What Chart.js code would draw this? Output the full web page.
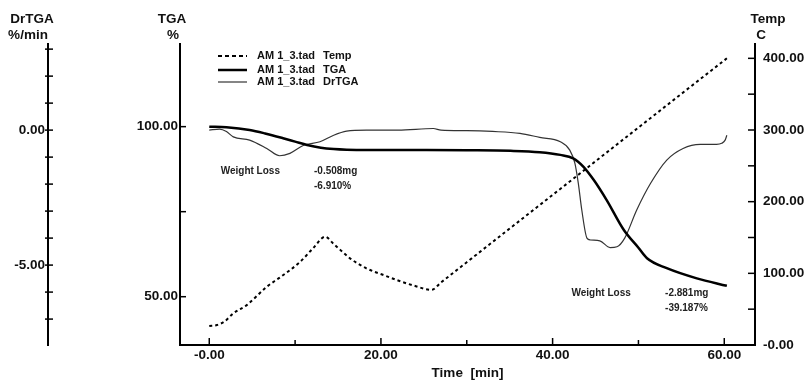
<!DOCTYPE html>
<html>
<head>
<meta charset="utf-8">
<title>AM 1_3 TGA</title>
<script src="https://cdn.jsdelivr.net/npm/chart.js@4.4.1/dist/chart.umd.min.js"></script>
<style>
  html, body { margin: 0; padding: 0; background: #fff; }
  #wrap { width: 811px; height: 381px; }
</style>
</head>
<body>
<div id="wrap"><canvas id="tga"></canvas></div>
<script>
(function () {
  "use strict";

  const FONT = "'Liberation Sans', Arial, sans-serif";
  const INK = "#111";

  /* ── Run AM 1_3.tad (time in minutes) ─────────────────────────── */
  const tempTime = [0, 0.9, 1.8, 2.8, 4.4, 6.7, 8.2, 10.6, 12.1, 13.5, 14.5, 16.4, 18.3, 20.3, 22, 23.8, 25.9, 27, 30, 35, 40, 42.8, 50, 55, 60.3];
  const tempC    = [26.5, 27.9, 33, 44.2, 56, 81.3, 94, 116.2, 135, 151, 141, 120.9, 107, 97.6, 90, 83, 77, 87.3, 115.5, 162.5, 209.4, 235.7, 303.4, 350.4, 400];

  const tgaTime = [0, 2, 4.7, 6.5, 8.6, 10, 11.4, 13, 14.5, 16, 18.3, 25, 30, 35.1, 38.5, 40.9, 42.4, 43.6, 44.8, 46.3, 48.3, 50, 51, 53.3, 56.8, 60.3];
  const tgaPct  = [100, 99.8, 99.0, 98.0, 96.6, 95.6, 94.6, 93.8, 93.4, 93.2, 93.1, 93.1, 93.05, 92.9, 92.5, 91.7, 90.7, 88.2, 84.3, 78.4, 69.6, 64.4, 61.3, 58.4, 55.4, 53.2];

  const drTime = [0, 1.2, 2.0, 2.8, 4.7, 6.7, 8.2, 9.4, 11.0, 12.9, 14.5, 16.0, 18.3, 22, 26.1, 27, 30, 33, 36.2, 38.5, 40.9, 42.0, 42.6, 43.0, 43.4, 44.0, 44.4, 45.5, 46.7, 47.5, 48.4, 49.8, 51.4, 53.3, 55.2, 57.2, 59.1, 59.7, 60.1, 60.3];
  const drRate = [0, 0.04, -0.05, -0.25, -0.37, -0.68, -0.95, -0.86, -0.56, -0.43, -0.19, -0.04, 0, 0, 0.06, 0, -0.02, -0.05, -0.12, -0.27, -0.43, -0.74, -1.23, -1.98, -2.96, -4.0, -4.07, -4.1, -4.35, -4.32, -4.0, -2.96, -1.98, -1.11, -0.68, -0.53, -0.53, -0.49, -0.37, -0.19];

  /* ── Axis ticks and labels ─────────────────────────────────────── */
  const timeTicks  = [0, 10, 20, 30, 40, 50, 60];
  const timeLabels = ["-0.00", "", "20.00", "", "40.00", "", "60.00"];
  const tgaTicks   = [50, 75, 100];
  const tgaLabels  = ["50.00", "", "100.00"];
  const drTicks    = [-7, -6, -5, -4, -3, -2, -1, 0, 1, 2, 3];
  const drLabels   = ["", "", "-5.00", "", "", "", "", "0.00", "", "", ""];
  const tempTicks  = [0, 50, 100, 150, 200, 250, 300, 350, 400];
  const tempLabels = ["-0.00", "", "100.00", "", "200.00", "", "300.00", "", "400.00"];

  const fileName   = "AM 1_3.tad";
  const traceNames = ["Temp", "TGA", "DrTGA"];
  const lossMass   = ["-0.508mg", "-2.881mg"];
  const lossPct    = ["-6.910%", "-39.187%"];

  const pts = (xs, ys) => xs.map((x, i) => ({ x, y: ys[i] }));

  const tickFont = { family: FONT, size: 13.5, weight: "bold" };
  const noGrid = { display: false, drawTicks: false };

  const yAxis = (ticks, labels, position, width, pad, weight) => ({
    type: "linear",
    position,
    weight,
    afterBuildTicks: (s) => { s.ticks = ticks.map((v) => ({ value: v })); },
    afterFit: (s) => { s.width = width; },
    border: { display: true, color: "#000", width: 2 },
    grid: noGrid,
    ticks: { autoSkip: false, padding: pad, color: INK, font: tickFont, callback: (v, i) => labels[i] },
  });

  /* ── Tick marks point into the plot, like the instrument printout ── */
  const innerTicks = {
    id: "innerTicks",
    afterDraw(chart) {
      const { ctx, scales } = chart;
      ctx.save();
      ctx.strokeStyle = "#000";
      ctx.lineWidth = 1.5;
      const line = (x0, y0, x1, y1) => { ctx.beginPath(); ctx.moveTo(x0, y0); ctx.lineTo(x1, y1); ctx.stroke(); };
      const dr = scales.yDr, tg = scales.yTga, tp = scales.yTemp, tx = scales.x;
      dr.ticks.forEach((t) => { const y = dr.getPixelForValue(t.value); line(dr.right - 3, y, dr.right + 5, y); });
      tg.ticks.forEach((t) => { const y = tg.getPixelForValue(t.value); line(tg.right - 1, y, tg.right + 6, y); });
      tp.ticks.forEach((t) => { const y = tp.getPixelForValue(t.value); line(tp.left - 7, y, tp.left, y); });
      tx.ticks.forEach((t) => {
        const x = tx.getPixelForValue(t.value);
        const len = t.value % 20 === 0 ? 7 : 5;
        line(x, tx.top - len, x, tx.top);
      });
      ctx.restore();
    },
  };

  /* ── Axis headers, legend and weight-loss notes ────────────────── */
  const annotate = {
    id: "annotate",
    afterDraw(chart) {
      const { ctx, scales, chartArea: a } = chart;
      ctx.save();
      ctx.fillStyle = INK;
      ctx.textAlign = "center";
      ctx.textBaseline = "middle";
      ctx.font = "bold 13.5px " + FONT;
      const dr = scales.yDr, tg = scales.yTga, tp = scales.yTemp;
      ctx.fillText("DrTGA", dr.right - 16, 19);
      ctx.fillText("%/min", dr.right - 20, 35);
      ctx.fillText("TGA", tg.right - 8, 19);
      ctx.fillText("%", tg.right - 7, 35);
      ctx.fillText("Temp", tp.left + 13, 19);
      ctx.fillText("C", tp.left + 6, 35);

      // legend block
      const rows = [a.top + 12, a.top + 26, a.top + 38];
      const styles = [
        { w: 2, dash: [4, 3], c: "#000" },
        { w: 2.5, dash: [], c: "#000" },
        { w: 1.2, dash: [], c: "#333" },
      ];
      const lx0 = a.left + 38, lx1 = a.left + 67;
      rows.forEach((y, i) => {
        ctx.beginPath();
        ctx.setLineDash(styles[i].dash);
        ctx.lineWidth = styles[i].w;
        ctx.strokeStyle = styles[i].c;
        ctx.moveTo(lx0, y);
        ctx.lineTo(lx1, y);
        ctx.stroke();
      });
      ctx.setLineDash([]);
      ctx.font = "bold 11px " + FONT;
      ctx.textAlign = "left";
      rows.forEach((y, i) => {
        ctx.fillText(fileName, a.left + 77, y);
        ctx.fillText(traceNames[i], a.left + 143, y);
      });

      // weight-loss steps, placed on the time / TGA scales
      const x = scales.x, y = scales.yTga;
      const spots = [
        { t: 1.33, v: 86.8, tv: 12.2, v2: 82.4 },
        { t: 42.2, v: 51.0, tv: 53.1, v2: 46.6 },
      ];
      ctx.font = "bold 10px " + FONT;
      ctx.fillStyle = "#222";
      spots.forEach((s, i) => {
        ctx.fillText("Weight Loss", x.getPixelForValue(s.t), y.getPixelForValue(s.v));
        ctx.fillText(lossMass[i], x.getPixelForValue(s.tv), y.getPixelForValue(s.v));
        ctx.fillText(lossPct[i], x.getPixelForValue(s.tv), y.getPixelForValue(s.v2));
      });
      ctx.restore();
    },
  };

  new Chart(document.getElementById("tga"), {
    type: "line",
    data: {
      datasets: [
        {
          label: "Temp",
          data: pts(tempTime, tempC),
          yAxisID: "yTemp",
          borderColor: "#000",
          borderWidth: 2,
          borderDash: [3, 3],
          pointRadius: 0,
          cubicInterpolationMode: "monotone",
        },
        {
          label: "TGA",
          data: pts(tgaTime, tgaPct),
          yAxisID: "yTga",
          borderColor: "#000",
          borderWidth: 2.5,
          pointRadius: 0,
          cubicInterpolationMode: "monotone",
        },
        {
          label: "DrTGA",
          data: pts(drTime, drRate),
          yAxisID: "yDr",
          borderColor: "#333",
          borderWidth: 1.2,
          pointRadius: 0,
          cubicInterpolationMode: "monotone",
        },
      ],
    },
    options: {
      responsive: true,
      maintainAspectRatio: false,
      animation: false,
      layout: { padding: { top: 44, left: 0, right: 0, bottom: 0 } },
      plugins: { legend: { display: false }, tooltip: { enabled: false } },
      scales: {
        x: {
          type: "linear",
          min: -3.41,
          max: 63.58,
          afterBuildTicks: (s) => { s.ticks = timeTicks.map((v) => ({ value: v })); },
          afterFit: (s) => { s.height = 36; },
          border: { display: true, color: "#000", width: 2 },
          grid: noGrid,
          ticks: { autoSkip: false, maxRotation: 0, padding: 2, color: INK, font: tickFont, callback: (v, i) => timeLabels[i] },
          title: { display: true, text: "Time  [min]", color: INK, font: tickFont, padding: { top: 0, bottom: 0 } },
        },
        yDr: Object.assign(yAxis(drTicks, drLabels, "left", 48, 3, 2), { min: -7.96, max: 3.19 }),
        yTga: Object.assign(yAxis(tgaTicks, tgaLabels, "left", 132, 2, 1), { min: 35.8, max: 124.3 }),
        yTemp: Object.assign(yAxis(tempTicks, tempLabels, "right", 56, 8, 1), { min: 0, max: 420 }),
      },
    },
    plugins: [innerTicks, annotate],
  });
})();
</script>
</body>
</html>
